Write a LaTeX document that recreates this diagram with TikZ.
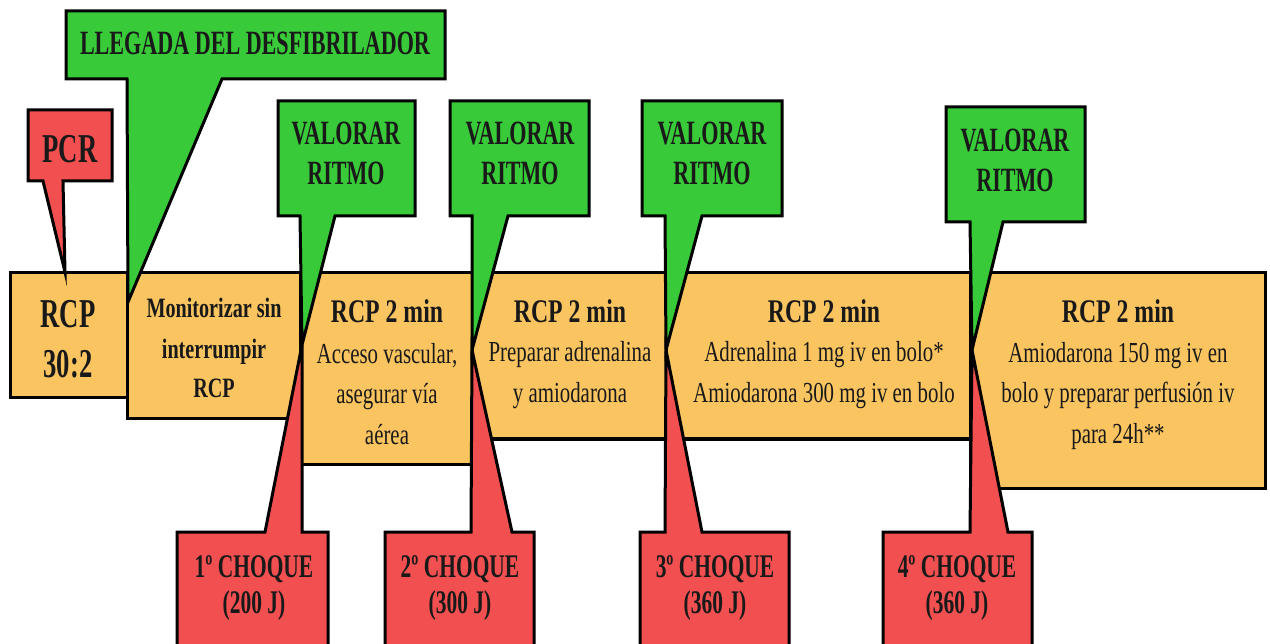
\documentclass[tikz,border=0pt]{standalone}
\usepackage{fontspec}
\setmainfont{Liberation Serif}[FakeStretch=0.72]
\newfontfamily\estrecha{Liberation Serif}[FakeStretch=0.65]
\definecolor{N}{RGB}{250,197,96}
\definecolor{V}{RGB}{56,202,56}
\definecolor{R}{RGB}{242,80,80}
\newcommand{\fGrande}{\estrecha\fontsize{41}{51}\selectfont\bfseries}
\newcommand{\fTitulo}{\fontsize{33}{40}\selectfont\bfseries}
\newcommand{\fMonit}{\fontsize{28}{40}\selectfont\bfseries}
\newcommand{\fNormal}{\fontsize{29}{40.5}\selectfont}
\newcommand{\fGlobo}{\estrecha\fontsize{34}{40}\selectfont\bfseries}
\newcommand{\fChoque}{\estrecha\fontsize{33}{36}\selectfont\bfseries}
\tikzset{
  caja/.style={color=black, fill=N, line width=3pt},
  globoV/.style={color=black, fill=V, line width=3pt},
  globoR/.style={color=black, fill=R, line width=3pt},
  txt/.style={inner sep=0pt, align=center, anchor=base, text=black!90},
}

\begin{document}
\begin{tikzpicture}[x=1pt, y=-1pt]
  \useasboundingbox (0,0) rectangle (1270,644);
  \clip (0,0) rectangle (1270,644);

  %# CAJAS DE LA SECUENCIA
  \filldraw[caja] (10,273) rectangle (127,398);
  \filldraw[caja] (127,273) rectangle (300,419);
  \filldraw[caja] (300,273) rectangle (472,464);
  \filldraw[caja] (472,273) rectangle (666,439);
  \filldraw[caja] (666,273) rectangle (970,439);
  \filldraw[caja] (970,273) rectangle (1265,488);

  %# PUNTAS DE LOS GLOBOS
  \coordinate (pcr) at (65,272);
  \coordinate (desf) at (128,302);
  \coordinate (j1) at (302,345);
  \coordinate (j2) at (472,350);
  \coordinate (j3) at (666,350);
  \coordinate (j4) at (972,350);

  %# GLOBOS VERDES
  \filldraw[globoV] (66,11) -- (445,11) -- (445,79) -- (222,79) -- (desf) -- (127,79) -- (66,79) -- cycle;
  \filldraw[globoV] (278,101) -- (415,101) -- (415,216) -- (335,216) -- (j1) -- (300,216) -- (278,216) -- cycle;
  \filldraw[globoV] (450,101) -- (589,101) -- (589,216) -- (508,216) -- (j2) -- (472,216) -- (450,216) -- cycle;
  \filldraw[globoV] (642,101) -- (782,101) -- (782,216) -- (702,216) -- (j3) -- (665,216) -- (642,216) -- cycle;
  \filldraw[globoV] (946,107) -- (1085,107) -- (1085,222) -- (1003,222) -- (j4) -- (970,222) -- (946,222) -- cycle;

  %# GLOBOS ROJOS
  \filldraw[globoR] (28,110) -- (112,110) -- (112,181) -- (63,181) -- (pcr) -- (43,181) -- (28,181) -- cycle;
  \filldraw[globoR] (177,660) -- (177,532) -- (265,532) -- (j1) -- (302,532) -- (328,532) -- (328,660);
  \filldraw[globoR] (385,660) -- (385,532) -- (471,532) -- (j2) -- (512,532) -- (534,532) -- (534,660);
  \filldraw[globoR] (640,660) -- (640,532) -- (665,532) -- (j3) -- (702,532) -- (789,532) -- (789,660);
  \filldraw[globoR] (883,660) -- (883,532) -- (970,532) -- (j4) -- (1008,532) -- (1032,532) -- (1032,660);

  %# TEXTOS DE LAS CAJAS
  \node[txt, font=\fGrande] (rcp) at (68,378) {RCP\\30:2};
  \node[txt, font=\fMonit] (monit) at (214,398) {Monitorizar sin\\interrumpir\\RCP};
  \node[txt, font=\fTitulo] (tA) at (387,323) {RCP 2 min};
  \node[txt, font=\fNormal] (cA) at (387,444) {Acceso vascular,\\asegurar vía\\aérea};
  \node[txt, font=\fTitulo] (tB) at (570,323) {RCP 2 min};
  \node[txt, font=\fNormal] (cB) at (570,402.5) {Preparar adrenalina\\y amiodarona};
  \node[txt, font=\fTitulo] (tC) at (824,323) {RCP 2 min};
  \node[txt, font=\fNormal] (cC) at (824,402.5) {Adrenalina 1 mg iv en bolo*\\Amiodarona 300 mg iv en bolo};
  \node[txt, font=\fTitulo] (tD) at (1118,323) {RCP 2 min};
  \node[txt, font=\fNormal] (cD) at (1118,443) {Amiodarona 150 mg iv en\\bolo y preparar perfusión iv\\para 24h**};

  %# TEXTOS DE LOS GLOBOS
  \node[txt, font=\fGrande] (tpcr) at (70,163) {PCR};
  \node[txt, font=\fGlobo] (tdesf) at (255,55) {LLEGADA DEL DESFIBRILADOR};
  \node[txt, font=\fGlobo] (v1) at (346,185) {VALORAR\\RITMO};
  \node[txt, font=\fGlobo] (v2) at (520,185) {VALORAR\\RITMO};
  \node[txt, font=\fGlobo] (v3) at (712,185) {VALORAR\\RITMO};
  \node[txt, font=\fGlobo] (v4) at (1015,192) {VALORAR\\RITMO};
  \node[txt, font=\fChoque] (c1) at (254,613) {1º CHOQUE\\(200 J)};
  \node[txt, font=\fChoque] (c2) at (460,613) {2º CHOQUE\\(300 J)};
  \node[txt, font=\fChoque] (c3) at (715,613) {3º CHOQUE\\(360 J)};
  \node[txt, font=\fChoque] (c4) at (957,613) {4º CHOQUE\\(360 J)};
\end{tikzpicture}
\end{document}
